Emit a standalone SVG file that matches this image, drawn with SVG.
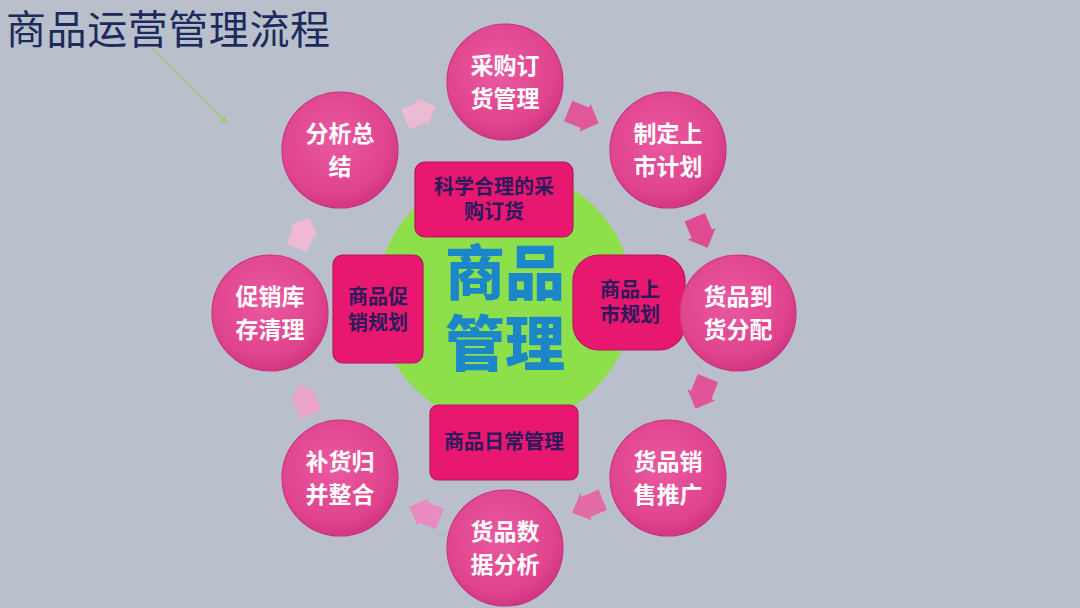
<svg xmlns="http://www.w3.org/2000/svg" width="1080" height="608" viewBox="0 0 1080 608">
<defs>
<radialGradient id="pinkG" cx="45%" cy="40%" r="60%">
<stop offset="0" stop-color="#ea5aa0"/>
<stop offset="0.8" stop-color="#e0438e"/>
<stop offset="1" stop-color="#d23682"/>
</radialGradient>
<marker id="gm" markerWidth="6" markerHeight="6" refX="5" refY="3" orient="auto" markerUnits="userSpaceOnUse">
<path d="M0,0 L6,3 L0,6 Z" fill="#8fd35a"/>
</marker>
<path id="arr" d="M-16,-11 L2,-11 L2,-15 L17,0 L2,15 L2,11 L-16,11 Z"/>
</defs>
<style>
.bg{fill:#b9c0cc}
.circ{fill:url(#pinkG);stroke:#c93680;stroke-width:1.2}
.ct{font-family:"Noto Sans CJK SC","Noto Sans",sans-serif;font-weight:bold;font-size:23px;fill:#ffffff;text-anchor:middle}
.box{fill:#e8176f;stroke:#b0195a;stroke-width:1.2}
.bt{font-family:"Noto Sans CJK SC","Noto Sans",sans-serif;font-weight:bold;font-size:20px;fill:#2b1b5c;text-anchor:middle}
.big{font-family:"Noto Sans CJK SC","Noto Sans",sans-serif;font-weight:900;font-size:60px;fill:#1b86c8;text-anchor:middle}
.title{font-family:"Noto Sans CJK SC","Noto Sans",sans-serif;font-size:40px;fill:#1c2b5c}
</style>
<rect class="bg" x="0" y="0" width="1080" height="608"/>
<text class="title" x="6" y="44" textLength="324">商品运营管理流程</text>
<g id="connectors">
<line x1="152" y1="48" x2="226" y2="122" stroke="#8fd35a" stroke-width="1.3" marker-end="url(#gm)"/>
<use href="#arr" transform="translate(420,113) rotate(-23)" fill="#ecbad3"/>
<use href="#arr" transform="translate(583,117) rotate(22)" fill="#e0589a"/>
<use href="#arr" transform="translate(701,232) rotate(67)" fill="#e04a90"/>
<use href="#arr" transform="translate(702,393) rotate(112)" fill="#e0559a"/>
<use href="#arr" transform="translate(588,506) rotate(157)" fill="#e26aa6"/>
<use href="#arr" transform="translate(425,513) rotate(202)" fill="#e98ac0"/>
<use href="#arr" transform="translate(305,400) rotate(247)" fill="#eba4c9"/>
<use href="#arr" transform="translate(303,233) rotate(292)" fill="#efb8d3"/>
</g>
<g id="center">
<circle cx="505" cy="298" r="128" fill="#8ee04a"/>
</g>
<g id="center-text">
<text class="big"><tspan x="505" y="295">商品</tspan><tspan x="505" y="366">管理</tspan></text>
</g>
<g id="box-top">
<rect class="box" x="415" y="162" width="158" height="75" rx="10"/>
<text class="bt"><tspan x="494" y="194">科学合理的采</tspan><tspan x="494" y="219">购订货</tspan></text>
</g>
<g id="box-left">
<rect class="box" x="333" y="255" width="90" height="108" rx="10"/>
<text class="bt"><tspan x="378" y="304">商品促</tspan><tspan x="378" y="330">销规划</tspan></text>
</g>
<g id="box-right">
<rect class="box" x="573" y="255" width="112" height="95" rx="26"/>
<text class="bt"><tspan x="630" y="297">商品上</tspan><tspan x="630" y="322">市规划</tspan></text>
</g>
<g id="box-bottom">
<rect class="box" x="430" y="405" width="148" height="75" rx="8"/>
<text class="bt" x="504" y="449">商品日常管理</text>
</g>
<g id="n1"><circle class="circ" cx="505" cy="82" r="58"/><text class="ct"><tspan x="505" y="74">采购订</tspan><tspan x="505" y="107">货管理</tspan></text></g>
<g id="n2"><circle class="circ" cx="668" cy="150" r="58"/><text class="ct"><tspan x="668" y="142">制定上</tspan><tspan x="668" y="175">市计划</tspan></text></g>
<g id="n3"><circle class="circ" cx="738" cy="313" r="58"/><text class="ct"><tspan x="738" y="305">货品到</tspan><tspan x="738" y="338">货分配</tspan></text></g>
<g id="n4"><circle class="circ" cx="668" cy="478" r="58"/><text class="ct"><tspan x="668" y="470">货品销</tspan><tspan x="668" y="503">售推广</tspan></text></g>
<g id="n5"><circle class="circ" cx="505" cy="548" r="58"/><text class="ct"><tspan x="505" y="540">货品数</tspan><tspan x="505" y="573">据分析</tspan></text></g>
<g id="n6"><circle class="circ" cx="340" cy="478" r="58"/><text class="ct"><tspan x="340" y="470">补货归</tspan><tspan x="340" y="503">并整合</tspan></text></g>
<g id="n7"><circle class="circ" cx="270" cy="313" r="58"/><text class="ct"><tspan x="270" y="305">促销库</tspan><tspan x="270" y="338">存清理</tspan></text></g>
<g id="n8"><circle class="circ" cx="340" cy="150" r="58"/><text class="ct"><tspan x="340" y="142">分析总</tspan><tspan x="340" y="175">结</tspan></text></g>
</svg>
